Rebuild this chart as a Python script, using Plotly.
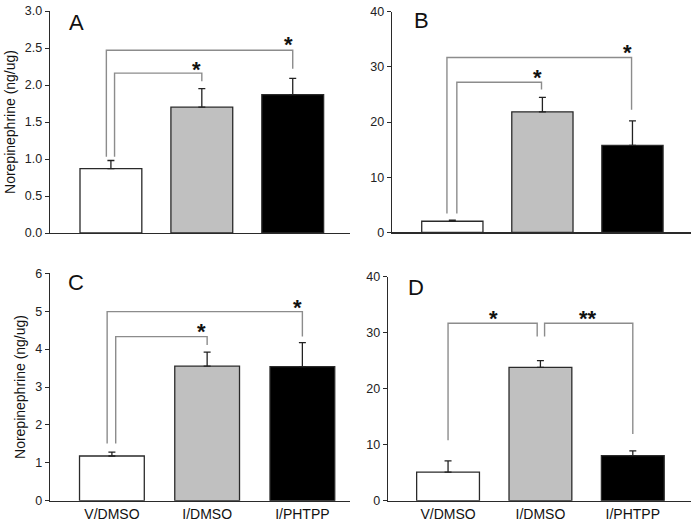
import plotly.graph_objects as go

W, H = 698, 527

categories = ["V/DMSO", "I/DMSO", "I/PHTPP"]
bar_colors = ["#ffffff", "#c0c0c0", "#000000"]

# Panel values (mean, upper error)
a_mean = [0.87, 1.70, 1.87]
a_err = [0.11, 0.25, 0.22]
b_mean = [2.0, 21.85, 15.75]
b_err = [0.2, 2.6, 4.45]
c_mean = [1.18, 3.55, 3.54]
c_err = [0.10, 0.37, 0.63]
d_mean = [5.1, 23.8, 8.04]
d_err = [2.0, 1.2, 0.86]

# y-axis settings
a_yrange, a_dtick = [0, 3.0], 0.5
b_yrange, b_dtick = [0, 40], 10
c_yrange, c_dtick = [0, 6], 1
d_yrange, d_dtick = [0, 40], 10

# Brackets: (x_left, y_left_bottom, y_top, x_right, y_right_bottom)
a_brackets = [(-0.05, 1.03, 2.47, 2.0, 2.22), (0.04, 1.03, 2.16, 1.0, 2.05)]
b_brackets = [(-0.06, 3.4, 31.7, 1.99, 22.2), (0.05, 3.4, 27.2, 0.99, 25.9)]
c_brackets = [(-0.05, 1.51, 4.99, 2.0, 4.33), (0.04, 1.51, 4.33, 1.0, 4.11)]
d_brackets = [(0.0, 10.8, 31.7, 0.965, 29.3), (1.045, 29.3, 31.7, 2.0, 11.9)]

# Significance stars: (x, y, text)
a_stars = [(1.95, 2.62, "*"), (0.94, 2.28, "*")]
b_stars = [(1.94, 33.6, "*"), (0.94, 28.9, "*")]
c_stars = [(1.95, 5.22, "*"), (0.94, 4.59, "*")]
d_stars = [(0.49, 33.5, "*"), (1.52, 33.5, "**")]

panel_letters = ["A", "B", "C", "D"]
ytitle = "Norepinephrine (ng/ug)"

# layout (pixel) geometry
panels = [
    dict(letter="A", mean=a_mean, err=a_err, yr=a_yrange, dt=a_dtick, fmt=".1f",
         br=a_brackets, st=a_stars, px=(50, 350), py=(11, 233), xr=(-0.67, 2.63),
         labels=False, ytitle=True, lx=76, ly=22),
    dict(letter="B", mean=b_mean, err=b_err, yr=b_yrange, dt=b_dtick, fmt="d",
         br=b_brackets, st=b_stars, px=(392, 691), py=(11.7, 232.3), xr=(-0.67, 2.65),
         labels=False, ytitle=False, lx=421, ly=20),
    dict(letter="C", mean=c_mean, err=c_err, yr=c_yrange, dt=c_dtick, fmt="d",
         br=c_brackets, st=c_stars, px=(50, 350), py=(273.3, 500.7), xr=(-0.65, 2.5),
         labels=True, ytitle=True, lx=76, ly=282),
    dict(letter="D", mean=d_mean, err=d_err, yr=d_yrange, dt=d_dtick, fmt="d",
         br=d_brackets, st=d_stars, px=(388, 691), py=(276.7, 500.7), xr=(-0.65, 2.63),
         labels=True, ytitle=False, lx=416, ly=287),
]

fig = go.Figure()
layout = dict(
    width=W, height=H, margin=dict(l=0, r=0, t=0, b=0, autoexpand=False),
    paper_bgcolor="white", plot_bgcolor="white", showlegend=False,
    font=dict(family="Arial, Liberation Sans, sans-serif", color="#222222"),
)
shapes = []
annotations = []
font_fam = "Arial, Liberation Sans, sans-serif"

for i, p in enumerate(panels):
    n = "" if i == 0 else str(i + 1)
    xa, ya = "x" + n, "y" + n
    fig.add_trace(go.Bar(
        x=[0, 1, 2], y=p["mean"], xaxis=xa, yaxis=ya, width=0.68,
        marker=dict(color=bar_colors, line=dict(color="#2a2a2a", width=1.3)),
        error_y=dict(type="data", array=p["err"], arrayminus=[0, 0, 0], symmetric=False,
                     color="#222222", thickness=1.3, width=3.5),
        hoverinfo="skip",
    ))
    dx = [p["px"][0] / W, p["px"][1] / W]
    dy = [1 - p["py"][1] / H, 1 - p["py"][0] / H]
    layout["xaxis" + n] = dict(
        domain=dx, range=list(p["xr"]), anchor=ya, showline=True, linecolor="#2a2a2a",
        linewidth=1.3, showgrid=False, zeroline=False, ticks="", automargin=False,
        tickmode="array", tickvals=[0, 1, 2],
        ticktext=categories if p["labels"] else ["", "", ""],
        tickfont=dict(size=14, family=font_fam, color="#111111"),
        fixedrange=True,
    )
    layout["yaxis" + n] = dict(
        domain=dy, range=list(p["yr"]), anchor=xa, showline=True, linecolor="#2a2a2a",
        linewidth=1.3, showgrid=False, zeroline=False, ticks="outside", ticklen=4,
        tickcolor="#2a2a2a", tickwidth=1, dtick=p["dt"], tick0=0, tickformat=p["fmt"],
        tickfont=dict(size=12.5, family=font_fam, color="#222222"), automargin=False,
        fixedrange=True,
    )
    if p["ytitle"]:
        layout["yaxis" + n]["title"] = dict(text=ytitle, standoff=6,
                                            font=dict(size=14, family=font_fam, color="#111111"))
    for (x0, yb0, yt, x1, yb1) in p["br"]:
        shapes.append(dict(type="path", xref=xa, yref=ya,
                           path=f"M {x0},{yb0} L {x0},{yt} L {x1},{yt} L {x1},{yb1}",
                           line=dict(color="#8c8c8c", width=1.4)))
    for (sx, sy, t) in p["st"]:
        annotations.append(dict(x=sx, y=sy, xref=xa, yref=ya, text="<b>" + t + "</b>",
                                showarrow=False, yanchor="middle", yshift=-5,
                                font=dict(size=22, family=font_fam, color="#111111")))
    annotations.append(dict(x=p["lx"] / W, y=1 - p["ly"] / H, xref="paper", yref="paper",
                            text=p["letter"], showarrow=False, xanchor="center", yanchor="middle",
                            font=dict(size=22, family=font_fam, color="#111111")))

layout["shapes"] = shapes
layout["annotations"] = annotations
fig.update_layout(**layout)
fig.write_html("out.html", config={"displayModeBar": False, "staticPlot": True},
               post_script="document.body.style.margin='0';document.body.style.overflow='hidden';")
